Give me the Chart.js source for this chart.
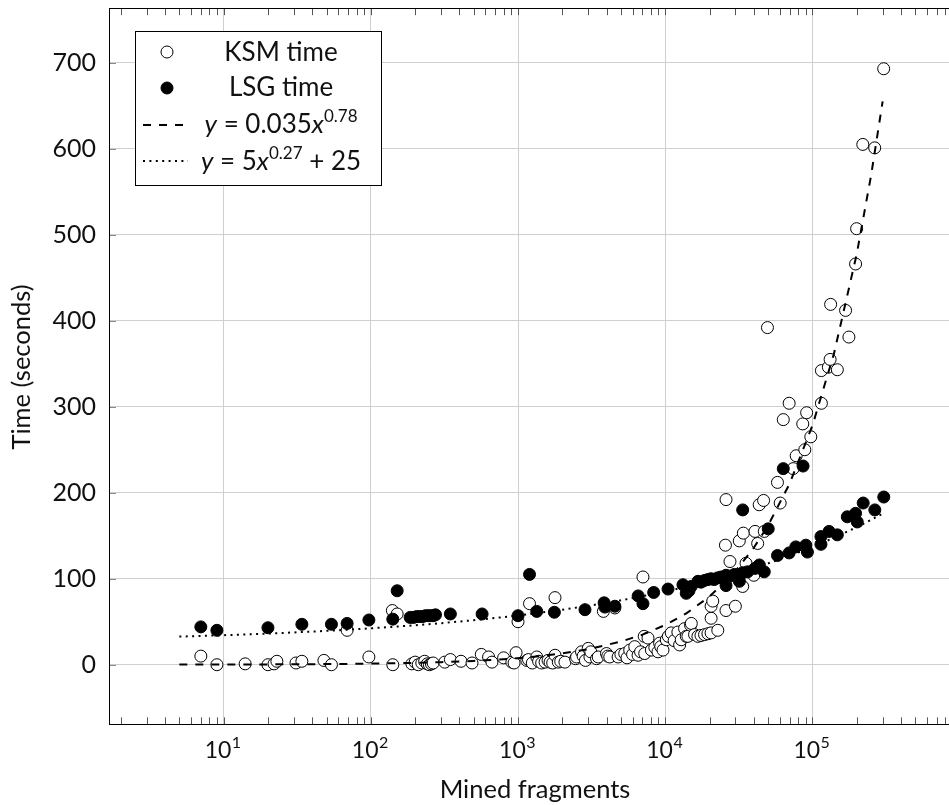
<!DOCTYPE html>
<html>
<head>
<meta charset="utf-8">
<script src="https://cdn.jsdelivr.net/npm/chart.js@4.4.1/dist/chart.umd.min.js"></script>
<style>
  html, body { margin: 0; padding: 0; overflow: hidden; background: #fff; }
  #wrap { width: 960px; height: 805px; }
</style>
</head>
<body>
<div id="wrap"><canvas id="chart" width="960" height="805"></canvas></div>
<script>
// KSM run time: [mined fragments, seconds]
const ksmTime = [
  [7,10],[9,0],[14,1],[20,0],[22,1],[23,4],[31,2],[34,4],[48,5],[54,0],[69,40],[97,9],
  [140,63],[151,59],[141,0],[190,1],[200,3],[210,0],[222,2],[232,4],[242,1],[250,0],[258,1],[265,2],
  [318,3],[347,6],[410,4],[487,2],[563,12],[631,9],[665,3],[798,8],[908,3],[940,2],[970,14],[1000,50],
  [1148,5],[1178,6],[1197,71],[1250,2],[1340,9],[1380,4],[1448,2],[1527,3],[1600,5],[1651,3],[1720,2],
  [1785,11],[1783,78],[1878,3],[1950,4],[2083,3],[2460,7],[2500,9],[2700,15],[2770,10],[2870,5],
  [3000,19],[3080,9],[3120,15],[3415,7],[3507,9],[3800,62],[3990,13],[4070,10],[4200,9],[4550,66],
  [4786,9],[5000,12],[5310,13],[5500,8],[5740,17],[6000,12],[6210,21],[6540,11],[6800,15],[7060,102],
  [7200,33],[7260,13],[7640,31],[8050,17],[8500,20],[8930,15],[9160,25],[9330,21],[9660,17],[10170,29],
  [10500,33],[10990,37],[11500,28],[12190,38],[12530,23],[12850,29],[13540,42],[13900,33],[14260,33],
  [14870,46],[15040,48],[15820,35],[16680,33],[17500,34],[18500,35],[19500,36],[20500,37],[20500,54],
  [20500,68],[21040,74],[22760,40],[25650,139],[25880,63],[25900,192],[27540,120],[29970,68],[31880,144],
  [33600,91],[33950,153],[35400,118],[40000,104],[40740,155],[42470,141],[43500,186],[46600,191],
  [47100,155],[49500,392],[57900,212],[60400,188],[63400,285],[69500,304],[74000,228],[77600,243],
  [86000,280],[88800,250],[91400,293],[97500,265],[115100,342],[115100,304],[128400,346],[131900,355],
  [133000,419],[147700,343],[168000,412],[177000,381],[196500,466],[199700,507],[220000,605],
  [265000,601],[305000,693]
];

// LSG run time: [mined fragments, seconds]
const lsgTime = [
  [7,44],[9,40],[20,43],[34,47],[54,47],[69,48],[97,52],[141,53],[151,86],
  [185,55],[195,55],[205,56],[215,56],[225,56],[235,57],[245,57],[255,57],[265,57],[275,58],
  [347,59],[570,59],[1000,57],[1197,105],[1340,62],[1766,61],[2850,64],[3846,72],[3890,67],[4550,68],
  [6550,80],[7060,71],[8350,84],[10450,88],[13200,93],[13900,83],[14500,86],[15000,91],
  [16700,97],[17500,96],[18500,98],[19500,99],[20500,100],[21500,99],[22760,101],[24000,102],
  [25900,104],[25900,92],[27500,103],[29500,105],[31900,97],[33600,107],[33600,180],[36300,108],
  [40700,112],[43600,116],[47100,108],[50100,158],[57900,127],[63400,228],[69500,130],[77100,137],
  [86400,231],[90200,139],[92500,131],[114300,140],[114300,149],[129800,155],[147700,151],
  [172600,172],[196400,176],[201700,166],[221300,188],[265500,180],[305400,195]
];

// Fitted curves, as given in the legend
const ksmFit = { a: 0.035, b: 0.78 };        // y = a x^b
const lsgFit = { a: 5, b: 0.27, c: 25 };     // y = a x^b + c
const fitSampleX = [5, 7, 10, 14, 20, 30, 50, 70, 100, 140, 200, 300, 500, 700, 1000, 1400, 2000,
  3000, 5000, 7000, 10000, 14000, 20000, 30000, 40000, 50000, 70000, 100000, 140000, 200000, 250000, 300000];

const xDecades = [1, 2, 3, 4, 5];
const yTickValues = [0, 100, 200, 300, 400, 500, 600, 700];
const xRange = [1.664, 902000];
const yRange = [-69.4, 763.4];

const FONT = "Lato, 'DejaVu Sans', sans-serif";
const toPoints = arr => arr.map(([x, y]) => ({ x, y }));

const isDecade = v => Math.abs(Math.log10(v) - Math.round(Math.log10(v))) < 1e-6;

// Ticks, labels, frame and legend in the pgfplots style
const frameAndLegend = {
  id: 'frameAndLegend',
  afterDraw(chart) {
    const { ctx, chartArea: a, scales: { x, y } } = chart;
    ctx.save();

    // inward minor/major ticks on bottom and top
    ctx.strokeStyle = '#555';
    ctx.lineWidth = 1;
    ctx.beginPath();
    for (let d = 0; d <= 6; d++) {
      for (let m = 1; m <= 9; m++) {
        const v = m * Math.pow(10, d);
        if (v < xRange[0] || v > xRange[1]) continue;
        const px = Math.round(x.getPixelForValue(v)) + 0.5;
        ctx.moveTo(px, a.bottom); ctx.lineTo(px, a.bottom - 7);
        ctx.moveTo(px, a.top); ctx.lineTo(px, a.top + 7);
      }
    }
    ctx.stroke();

    ctx.strokeStyle = '#888';
    ctx.beginPath();
    yTickValues.forEach(v => {
      const py = Math.round(y.getPixelForValue(v)) + 0.5;
      ctx.moveTo(a.left, py); ctx.lineTo(a.left + 7, py);
    });
    ctx.stroke();

    // frame
    ctx.strokeStyle = '#000';
    ctx.lineWidth = 1;
    ctx.strokeRect(Math.round(a.left) + 0.5, Math.round(a.top) + 0.5,
      Math.round(a.right - a.left), Math.round(a.bottom - a.top));

    // y tick labels
    ctx.fillStyle = '#111';
    ctx.font = `25px ${FONT}`;
    ctx.textAlign = 'right';
    ctx.textBaseline = 'middle';
    yTickValues.forEach(v => ctx.fillText(String(v), 96, y.getPixelForValue(v)));

    // x tick labels: 10 with superscript exponent
    ctx.textBaseline = 'alphabetic';
    ctx.textAlign = 'left';
    xDecades.forEach(e => {
      const px = x.getPixelForValue(Math.pow(10, e));
      ctx.font = `23px ${FONT}`;
      const wBase = ctx.measureText('10').width;
      ctx.font = `16px ${FONT}`;
      const wExp = ctx.measureText(String(e)).width;
      const start = px - (wBase + wExp) / 2 - 1;
      ctx.font = `23px ${FONT}`;
      ctx.fillText('10', start, 758);
      ctx.font = `16px ${FONT}`;
      ctx.fillText(String(e), start + wBase + 0.5, 748);
    });

    // axis titles
    ctx.font = `25.5px ${FONT}`;
    ctx.textAlign = 'center';
    ctx.fillText('Mined fragments', 535, 798);
    ctx.save();
    ctx.translate(30, 367);
    ctx.rotate(-Math.PI / 2);
    ctx.textBaseline = 'alphabetic';
    ctx.fillText('Time (seconds)', 0, 0);
    ctx.restore();

    // legend
    const L = { x: 135.5, y: 31.5, w: 246, h: 154 };
    ctx.fillStyle = '#fff';
    ctx.fillRect(L.x, L.y, L.w, L.h);
    ctx.strokeStyle = '#000';
    ctx.lineWidth = 1;
    ctx.strokeRect(L.x, L.y, L.w, L.h);

    const textCx = 281;
    const mx = 167;
    // open marker
    ctx.beginPath(); ctx.arc(mx, 52, 6, 0, Math.PI * 2);
    ctx.fillStyle = '#fff'; ctx.fill(); ctx.strokeStyle = '#000'; ctx.stroke();
    // filled marker
    ctx.beginPath(); ctx.arc(mx, 88, 6, 0, Math.PI * 2);
    ctx.fillStyle = '#000'; ctx.fill(); ctx.stroke();
    // dashed sample
    ctx.lineWidth = 2;
    ctx.setLineDash([8, 8]);
    ctx.beginPath(); ctx.moveTo(143, 125); ctx.lineTo(186, 125); ctx.stroke();
    // dotted sample
    ctx.setLineDash([2, 4.4]);
    ctx.beginPath(); ctx.moveTo(143, 161); ctx.lineTo(188, 161); ctx.stroke();
    ctx.setLineDash([]);

    const drawRich = (parts, cx, base) => {
      let total = 0;
      parts.forEach(p => { ctx.font = p.f; total += ctx.measureText(p.t).width; });
      let cur = cx - total / 2;
      ctx.textAlign = 'left';
      parts.forEach(p => {
        ctx.font = p.f;
        ctx.fillText(p.t, cur, base + (p.dy || 0));
        cur += ctx.measureText(p.t).width;
      });
    };
    ctx.fillStyle = '#111';
    const nf = `26px ${FONT}`, itf = `italic 26px ${FONT}`, sf = `17px ${FONT}`;
    drawRich([{ t: 'KSM time', f: nf }], textCx, 61);
    drawRich([{ t: 'LSG time', f: nf }], textCx, 96);
    drawRich([{ t: 'y', f: itf }, { t: ' = 0.035', f: nf }, { t: 'x', f: itf }, { t: '0.78', f: sf, dy: -11 }], textCx, 133);
    drawRich([{ t: 'y', f: itf }, { t: ' = 5', f: nf }, { t: 'x', f: itf }, { t: '0.27', f: sf, dy: -11 }, { t: ' + 25', f: nf }], textCx, 170);

    ctx.restore();
  }
};

new Chart(document.getElementById('chart'), {
  type: 'scatter',
  data: {
    datasets: [
      {
        label: 'KSM time',
        data: toPoints(ksmTime),
        pointRadius: 6, pointHoverRadius: 6,
        pointBackgroundColor: '#fff', pointBorderColor: '#000', pointBorderWidth: 1,
        showLine: false, order: 4
      },
      {
        label: 'LSG time',
        data: toPoints(lsgTime),
        pointRadius: 6, pointHoverRadius: 6,
        pointBackgroundColor: '#000', pointBorderColor: '#000', pointBorderWidth: 1,
        showLine: false, order: 3
      },
      {
        label: 'KSM fit',
        data: fitSampleX.map(v => ({ x: v, y: ksmFit.a * Math.pow(v, ksmFit.b) })),
        showLine: true, pointRadius: 0, borderColor: '#000', borderWidth: 2,
        borderDash: [8, 8], fill: false, tension: 0, order: 2
      },
      {
        label: 'LSG fit',
        data: fitSampleX.map(v => ({ x: v, y: lsgFit.a * Math.pow(v, lsgFit.b) + lsgFit.c })),
        showLine: true, pointRadius: 0, borderColor: '#000', borderWidth: 2,
        borderDash: [2, 4.4], fill: false, tension: 0, order: 1
      }
    ]
  },
  options: {
    responsive: false,
    animation: false,
    devicePixelRatio: 1,
    layout: { padding: { top: 8.2, left: 0, right: 2.4, bottom: 0 } },
    plugins: { legend: { display: false }, tooltip: { enabled: false } },
    events: [],
    scales: {
      x: {
        type: 'logarithmic',
        min: xRange[0], max: xRange[1],
        afterFit: s => { s.height = 80.6; },
        ticks: { display: false },
        grid: {
          drawTicks: false,
          color: c => (c.tick && isDecade(c.tick.value)) ? '#cfcfcf' : 'rgba(0,0,0,0)',
          lineWidth: 1
        },
        border: { display: false }
      },
      y: {
        type: 'linear',
        min: yRange[0], max: yRange[1],
        afterFit: s => { s.width = 109; },
        ticks: { display: false, stepSize: 100 },
        grid: {
          drawTicks: false,
          color: c => (c.tick && c.tick.value >= 0 && c.tick.value % 100 === 0) ? '#cfcfcf' : 'rgba(0,0,0,0)',
          lineWidth: 1
        },
        border: { display: false }
      }
    }
  },
  plugins: [frameAndLegend]
});
</script>
</body>
</html>
